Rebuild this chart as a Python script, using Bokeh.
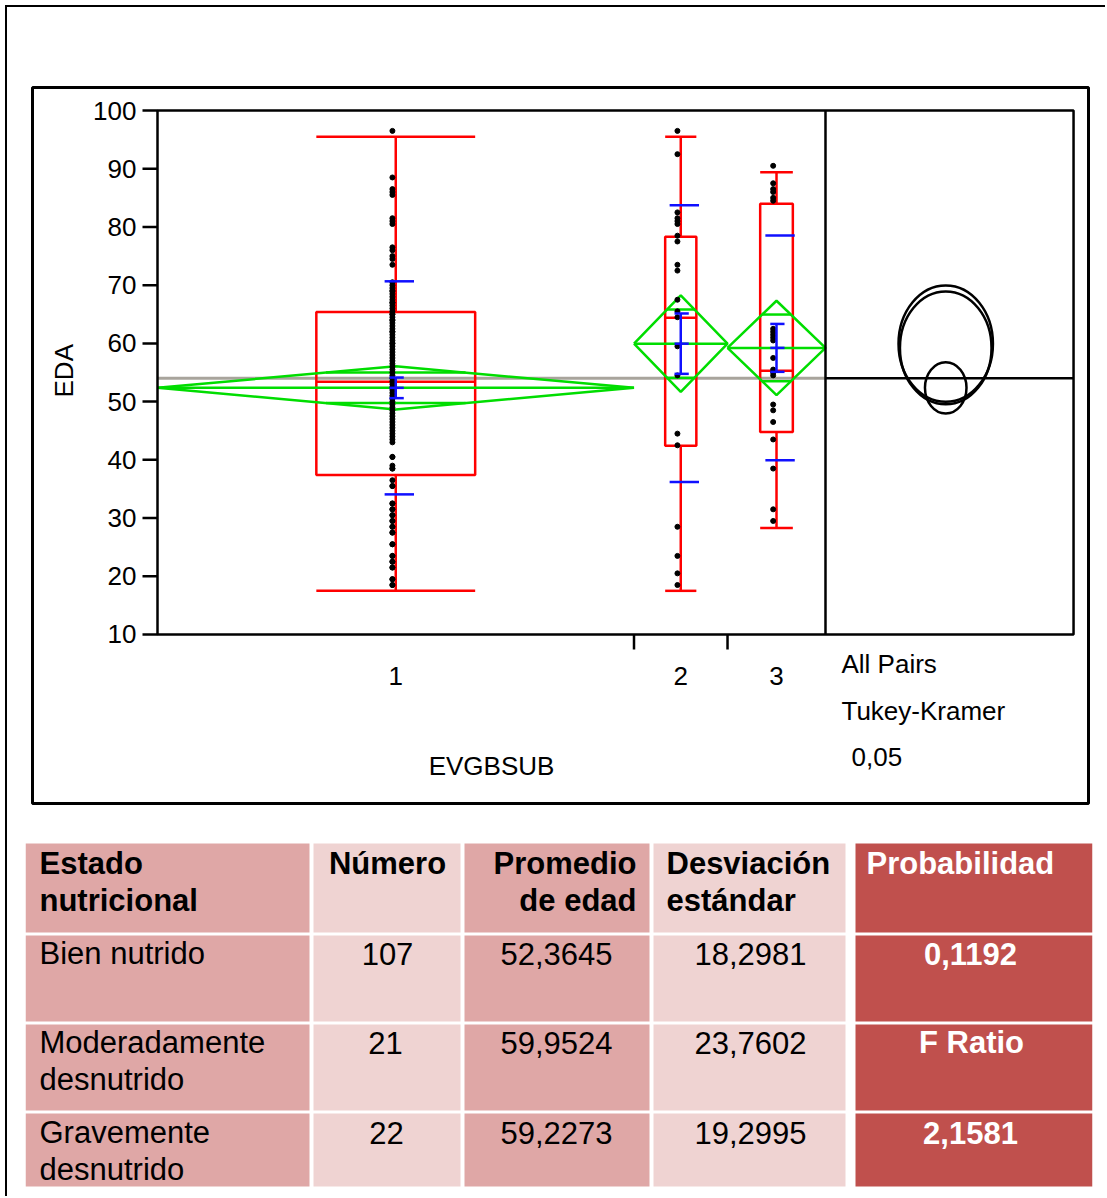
import math
from bokeh.plotting import figure
from bokeh.models import Range1d
from bokeh.layouts import column
from bokeh.core.properties import value
from bokeh.embed import file_html
from bokeh.resources import INLINE

# ---------------- data ----------------
groups = ["1", "2", "3"]
counts = [107, 21, 22]
means = [52.3645, 59.9524, 59.2273]
sds = [18.2981, 23.7602, 19.2995]
ci_half = [3.7, 8.3, 8.1]
box_low = [17.5, 17.5, 28.3]
box_q1 = [37.4, 42.4, 44.8]
box_med = [53.4, 64.4, 55.3]
box_q3 = [65.4, 78.3, 84.0]
box_high = [95.5, 95.5, 89.4]
comp_radius = [4.4, 10.0, 9.7]
grand_mean = 54.0
y_ticks = [10, 20, 30, 40, 50, 60, 70, 80, 90, 100]

ages_g1 = [96.5, 88.5, 86.5, 86, 85.5, 81.5, 81, 80.5, 76.5, 76, 75, 74.5, 73.5,
           70.5, 70, 69.5, 69, 69, 68.5, 68, 67.5, 67, 67, 66.5, 66, 65.5,
           65, 65, 64.5, 64, 64, 63.5, 63, 62.5, 62, 62, 61.5, 61, 60.5, 60, 60,
           59.5, 59, 58.5, 58, 57.5, 57, 56.5, 56, 55.5, 55, 54.5, 54,
           53.5,
           53, 52.5, 52, 51.5, 51, 50.5, 50, 49.5, 49, 48.5, 48, 47.5, 47, 46.5,
           46, 45.5, 45, 44.5, 44, 43.5, 43,
           40.5, 40.5, 39, 38.5, 38.5,
           36.5, 35.5, 35.5, 32.5, 32.5, 31.5, 31.5, 30.5, 30.5, 29.5, 29.5, 28.5,
           28.5, 27.5, 27.5, 25.5, 25.5, 23.5, 23.5, 22.5, 22.5, 21.5, 21.5, 19.5,
           19.5, 18.5, 18.5]
ages_g2 = [96.5, 92.5, 82.5, 81.5, 81, 80.5, 78.5, 77.5, 73.5, 72.5, 67.5, 65.5,
           64.5, 59.5, 54.5, 44.5, 42.5, 28.5, 23.5, 20.5, 18.5]
ages_g3 = [90.5, 87.5, 86.5, 86, 85, 84.5, 62.5, 62, 61.5, 61, 60.5, 57.5, 55.5,
           55, 54.5, 49.5, 48.5, 46.5, 43.5, 38.5, 31.5, 29.5]
ages = [ages_g1, ages_g2, ages_g3]

x_label = "EVGBSUB"
y_label = "EDA"
panel_labels = ["All Pairs", "Tukey-Kramer", "0,05"]

table_header = ["Estado\nnutricional", "Número", "Promedio\nde edad", "Desviación\nestándar", "Probabilidad"]
estado = ["Bien nutrido", "Moderadamente\ndesnutrido", "Gravemente\ndesnutrido"]
numero = ["107", "21", "22"]
promedio = ["52,3645", "59,9524", "59,2273"]
desviacion = ["18,2981", "23,7602", "19,2995"]
prob_col = ["0,1192", "F Ratio", "2,1581"]

# ---------------- layout constants (page pixels) ----------------
PX_X = 4.4533          # pixels per count unit along x
PX_Y = 5.8222          # pixels per year along y
X0_PX = 157            # page x of count 0
Y100_PX = 110          # page y of value 100
FRAME_L, FRAME_R = 25, 1092
FRAME_T, FRAME_B = 80, 810
INNER_L, INNER_R, INNER_T, INNER_B = 32, 1088, 87, 803

def dx(px):
    return (px - X0_PX) / PX_X

def dy(py):
    return 100 - (py - Y100_PX) / PX_Y

RED = "#FF0000"
GREEN = "#00DD00"
BLUE = "#1010FF"
GREY = "#A8A49C"
CFONT = value("Liberation Sans")
CSIZE = "26px"
TFONT = value("Liberation Sans")
TSIZE = "31px"

total_n = sum(counts)
panel_end = total_n + 55.7
circle_x = total_n + 27.0

W = 1098
CANVAS0 = 7
p = figure(width=W, height=830 - CANVAS0, x_range=Range1d(dx(FRAME_L), dx(FRAME_R)),
           y_range=Range1d(dy(FRAME_B), dy(FRAME_T)), x_axis_type=None, y_axis_type=None,
           min_border_left=FRAME_L - CANVAS0, min_border_right=CANVAS0 + W - FRAME_R,
           min_border_top=FRAME_T - CANVAS0, min_border_bottom=830 - FRAME_B,
           toolbar_location=None, output_backend="svg", title=None)
p.outline_line_color = None
p.background_fill_color = "white"
p.border_fill_color = "white"

# inner frame box
p.quad(left=[dx(INNER_L)], right=[dx(INNER_R)], top=[dy(INNER_T)], bottom=[dy(INNER_B)],
       fill_color=None, line_color="black", line_width=3)

starts = []
acc = 0
for n in counts:
    starts.append(acc)
    acc += n
centers = [s + n / 2 for s, n in zip(starts, counts)]
ends = [s + n for s, n in zip(starts, counts)]

# grey grand-mean line and black line in comparison panel
p.line([0, total_n], [grand_mean, grand_mean], line_color=GREY, line_width=3)
p.line([total_n, panel_end], [grand_mean, grand_mean], line_color="black", line_width=2.5)

# red box plots
bw = [n / 6 for n in counts]
bl = [c - w for c, w in zip(centers, bw)]
br = [c + w for c, w in zip(centers, bw)]
p.quad(left=bl, right=br, bottom=box_q1, top=box_q3, fill_color=None, line_color=RED,
       line_width=2.5)
p.segment(x0=bl, x1=br, y0=box_med, y1=box_med, line_color=RED, line_width=2.5)
p.segment(x0=centers, x1=centers, y0=box_q3, y1=box_high, line_color=RED, line_width=2.5)
p.segment(x0=centers, x1=centers, y0=box_q1, y1=box_low, line_color=RED, line_width=2.5)
p.segment(x0=bl, x1=br, y0=box_high, y1=box_high, line_color=RED, line_width=2.5)
p.segment(x0=bl, x1=br, y0=box_low, y1=box_low, line_color=RED, line_width=2.5)

# green mean diamonds
dxs, dys = [], []
ox0, ox1, oy = [], [], []
for s, e, c, m, h, n in zip(starts, ends, centers, means, ci_half, counts):
    dxs.append([s, c, e, c, s])
    dys.append([m, m + h, m, m - h, m])
    k = (n / 2) * (1 - 1 / math.sqrt(2))
    for sign in (1, -1):
        ox0.append(c - k)
        ox1.append(c + k)
        oy.append(m + sign * h / math.sqrt(2))
p.multi_line(dxs, dys, line_color=GREEN, line_width=2.5)
p.segment(x0=starts, x1=ends, y0=means, y1=means, line_color=GREEN, line_width=2.5)
p.segment(x0=ox0, x1=ox1, y0=oy, y1=oy, line_color=GREEN, line_width=2.5)

# points
for c, a in zip(centers, ages):
    p.scatter([c - 0.75] * len(a), a, marker="circle", size=5, fill_color="black",
              line_color="black")

# blue mean +/- SD and SE
sd_off = 0.8
sd_w = 3.3
se_w = 1.6
sx0, sx1, sy = [], [], []
ex0, ex1, ey = [], [], []
vx, vy0, vy1 = [], [], []
for c, m, s, n in zip(centers, means, sds, counts):
    for yv in (m + s, m - s):
        sx0.append(c + sd_off - sd_w)
        sx1.append(c + sd_off + sd_w)
        sy.append(yv)
    se = s / math.sqrt(n)
    for yv in (m + se, m, m - se):
        ex0.append(c - se_w + 0.2)
        ex1.append(c + se_w + 0.2)
        ey.append(yv)
    vx.append(c)
    vy0.append(m - se)
    vy1.append(m + se)
p.segment(x0=sx0, x1=sx1, y0=sy, y1=sy, line_color=BLUE, line_width=2.5)
p.segment(x0=ex0, x1=ex1, y0=ey, y1=ey, line_color=BLUE, line_width=2.5)
p.segment(x0=vx, x1=vx, y0=vy0, y1=vy1, line_color=BLUE, line_width=2.5)

# comparison circles
p.ellipse(x=[circle_x] * 3, y=means, width=[2 * r * 1.06 for r in comp_radius],
          height=[2 * r for r in comp_radius], fill_color=None, line_color="black",
          line_width=2.5)

# frame of plot area + separator
p.quad(left=[0], right=[panel_end], bottom=[y_ticks[0]], top=[y_ticks[-1]],
       fill_color=None, line_color="black", line_width=2.5)
p.segment(x0=[total_n], x1=[total_n], y0=[y_ticks[0]], y1=[y_ticks[-1]],
          line_color="black", line_width=2.5)

# y axis ticks
tick_x = 15 / PX_X
p.segment(x0=[-tick_x] * len(y_ticks), x1=[0] * len(y_ticks), y0=y_ticks, y1=y_ticks,
          line_color="black", line_width=2.5)
p.text(x=[0] * len(y_ticks), y=y_ticks, text=[str(t) for t in y_ticks], x_offset=-21,
       text_align="right", text_baseline="middle", text_font=CFONT,
       text_font_size=CSIZE, text_color="black")
p.text(x=[0], y=[55.3], text=[y_label], x_offset=-94, angle=math.pi / 2,
       text_align="center", text_baseline="middle", text_font=CFONT,
       text_font_size=CSIZE, text_color="black")

# x axis: group separators and labels
tick_y = 15 / PX_Y
seps = ends[:-1]
p.segment(x0=seps, x1=seps, y0=[y_ticks[0]] * len(seps), y1=[y_ticks[0] - tick_y] * len(seps),
          line_color="black", line_width=2.5)
p.text(x=centers, y=[y_ticks[0]] * 3, text=groups, y_offset=42, text_align="center",
       text_baseline="middle", text_font=CFONT, text_font_size=CSIZE, text_color="black")
p.text(x=[total_n / 2], y=[y_ticks[0]], text=[x_label], y_offset=132, text_align="center",
       text_baseline="middle", text_font=CFONT, text_font_size=CSIZE, text_color="black")
p.text(x=[total_n] * 3, y=[y_ticks[0]] * 3, text=panel_labels, x_offset=[16, 16, 26],
       y_offset=[30, 77, 123], text_align="left", text_baseline="middle", text_font=CFONT,
       text_font_size=CSIZE, text_color="black")

# ---------------- table ----------------
T_TOP, T_BOT = 830, 1196
t = figure(width=W, height=T_BOT - T_TOP, x_range=Range1d(FRAME_L, FRAME_R),
           y_range=Range1d(T_BOT, T_TOP), x_axis_type=None, y_axis_type=None,
           min_border_left=FRAME_L - CANVAS0, min_border_right=CANVAS0 + W - FRAME_R,
           min_border_top=0, min_border_bottom=0, toolbar_location=None,
           output_backend="svg", title=None)
t.outline_line_color = None
t.background_fill_color = "white"
t.border_fill_color = "white"

DARK = "#DFA7A6"
LIGHT = "#EFD3D2"
REDC = "#C0504D"
col_edges = [(25, 309), (313, 460), (464, 649), (653, 845), (855, 1092)]
row_edges = [(843, 932), (935, 1021), (1024, 1110), (1113, 1186)]
col_colors = [DARK, LIGHT, DARK, LIGHT, REDC]
ql, qr, qt, qb, qc = [], [], [], [], []
for (y0, y1) in row_edges:
    for (x0, x1), col in zip(col_edges, col_colors):
        ql.append(x0); qr.append(x1); qt.append(y0); qb.append(y1); qc.append(col)
t.quad(left=ql, right=qr, top=qt, bottom=qb, fill_color=qc, line_color=None)

LINE_H = 37

def put(texts, xs, ys, align, color="black", style="normal"):
    X, Y, T = [], [], []
    for txt, x, y in zip(texts, xs, ys):
        for i, ln in enumerate(txt.split("\n")):
            X.append(x); Y.append(y + i * LINE_H); T.append(ln)
    t.text(x=X, y=Y, text=T, text_align=align, text_baseline="middle", text_font=TFONT,
           text_font_size=TSIZE, text_font_style=style, text_color=color)

hy = 863
put([table_header[0]], [39], [hy], "left", style="bold")
put([table_header[1]], [387], [hy], "center", style="bold")
put([table_header[2]], [636], [hy], "right", style="bold")
put([table_header[3]], [666], [hy], "left", style="bold")
put([table_header[4]], [866], [hy], "left", color="white", style="bold")

row_y = [953, 1042, 1132]
put(estado, [39] * 3, row_y, "left")
put(numero, [387, 385, 386], row_y, "center")
put(promedio, [556] * 3, row_y, "center")
put(desviacion, [750] * 3, row_y, "center")
put(prob_col, [970, 971, 970], row_y, "center", color="white", style="bold")

layout = column(p, t, margin=(5, 0, 0, 5),
                styles={"border-left": "2px solid black", "border-top": "2px solid black"})
open("out.html", "w").write(file_html(layout, INLINE))
